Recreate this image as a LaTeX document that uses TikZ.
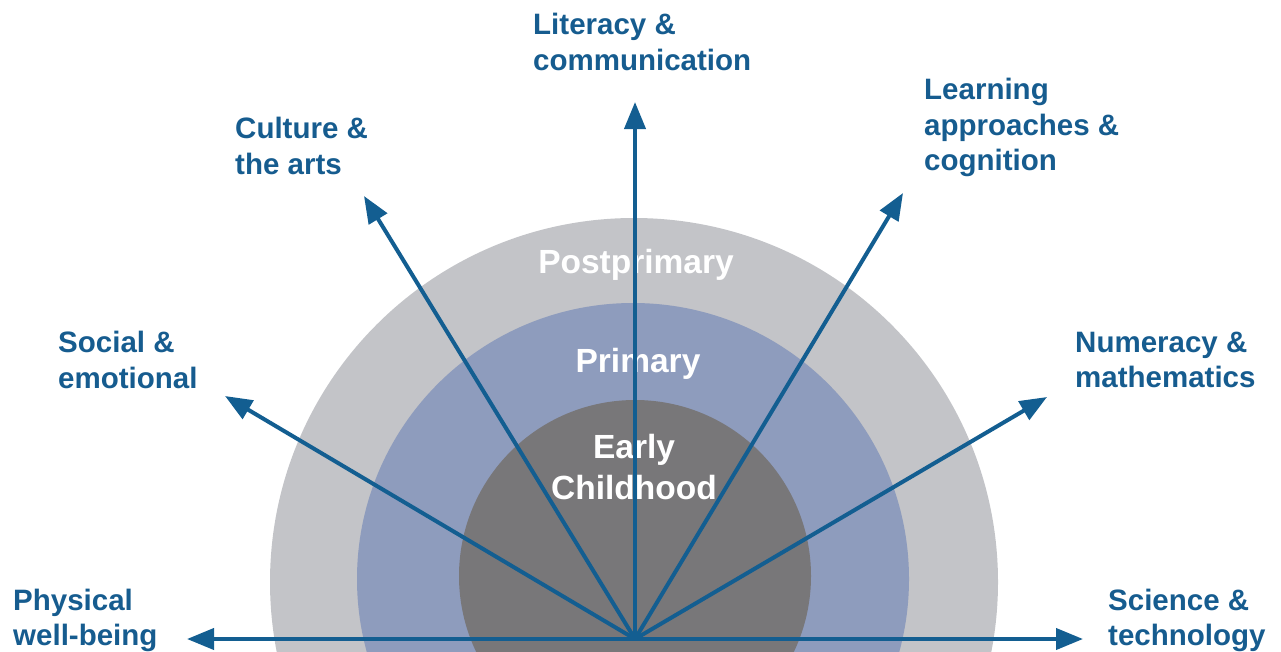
\documentclass[tikz,border=0pt]{standalone}
\usepackage{fontspec}
\setmainfont{Liberation Sans}
\usetikzlibrary{arrows.meta}
\definecolor{ablue}{RGB}{19,94,145}
\definecolor{tblue}{RGB}{22,92,143}
\definecolor{outerg}{RGB}{195,196,200}
\definecolor{midb}{RGB}{142,156,189}
\definecolor{innerg}{RGB}{120,119,121}
\begin{document}
\begin{tikzpicture}[x=1pt,y=-1pt,
  lab/.style={anchor=base west, inner sep=0pt, align=left, text=tblue,
    font=\fontsize{29.5}{35.5}\selectfont\bfseries},
  lvl/.style={anchor=base, inner sep=0pt, align=center, text=white,
    font=\fontsize{33.5}{41}\selectfont\bfseries},
  arr/.style={draw=ablue, line width=4pt, -{Triangle[length=27pt,width=21pt]}}]
\useasboundingbox (0,0) rectangle (1281,651);
\begin{scope}
\clip (0,0) rectangle (1281,651);
\fill[outerg] (634,582) circle[radius=364pt];
\fill[midb] (633,579) circle[radius=276pt];
\fill[innerg] (635,576) circle[radius=176pt];
\end{scope}
% level labels
\node[lvl] (post) at (636,273) {Postprimary};
\node[lvl] (prim) at (638,372) {Primary};
\node[lvl] (early) at (634,499) {Early\\Childhood};
% arrows
\coordinate (O) at (635,639);
\coordinate (tPhys) at (187,639);
\coordinate (tSci) at (1083,639);
\coordinate (tLit) at (635,102);
\coordinate (tCul) at (364,196);
\coordinate (tLea) at (903,193);
\coordinate (tSoc) at (225,396);
\coordinate (tNum) at (1047,397);
\foreach \t in {tPhys,tSci,tLit,tCul,tLea,tSoc,tNum}
  \draw[arr] (O) -- (\t);
% labels (anchor at baseline of last line)
\node[lab] (lit) at (533,70) {Literacy \&\\communication};
\node[lab] (cul) at (235,174) {Culture \&\\the arts};
\node[lab] (lea) at (924,170.5) {Learning\\approaches \&\\cognition};
\node[lab] (soc) at (58,388) {Social \&\\emotional};
\node[lab] (num) at (1075,387.5) {Numeracy \&\\mathematics};
\node[lab] (phy) at (13,645.5) {Physical\\well-being};
\node[lab] (sci) at (1108,645.5) {Science \&\\technology};
\end{tikzpicture}
\end{document}
